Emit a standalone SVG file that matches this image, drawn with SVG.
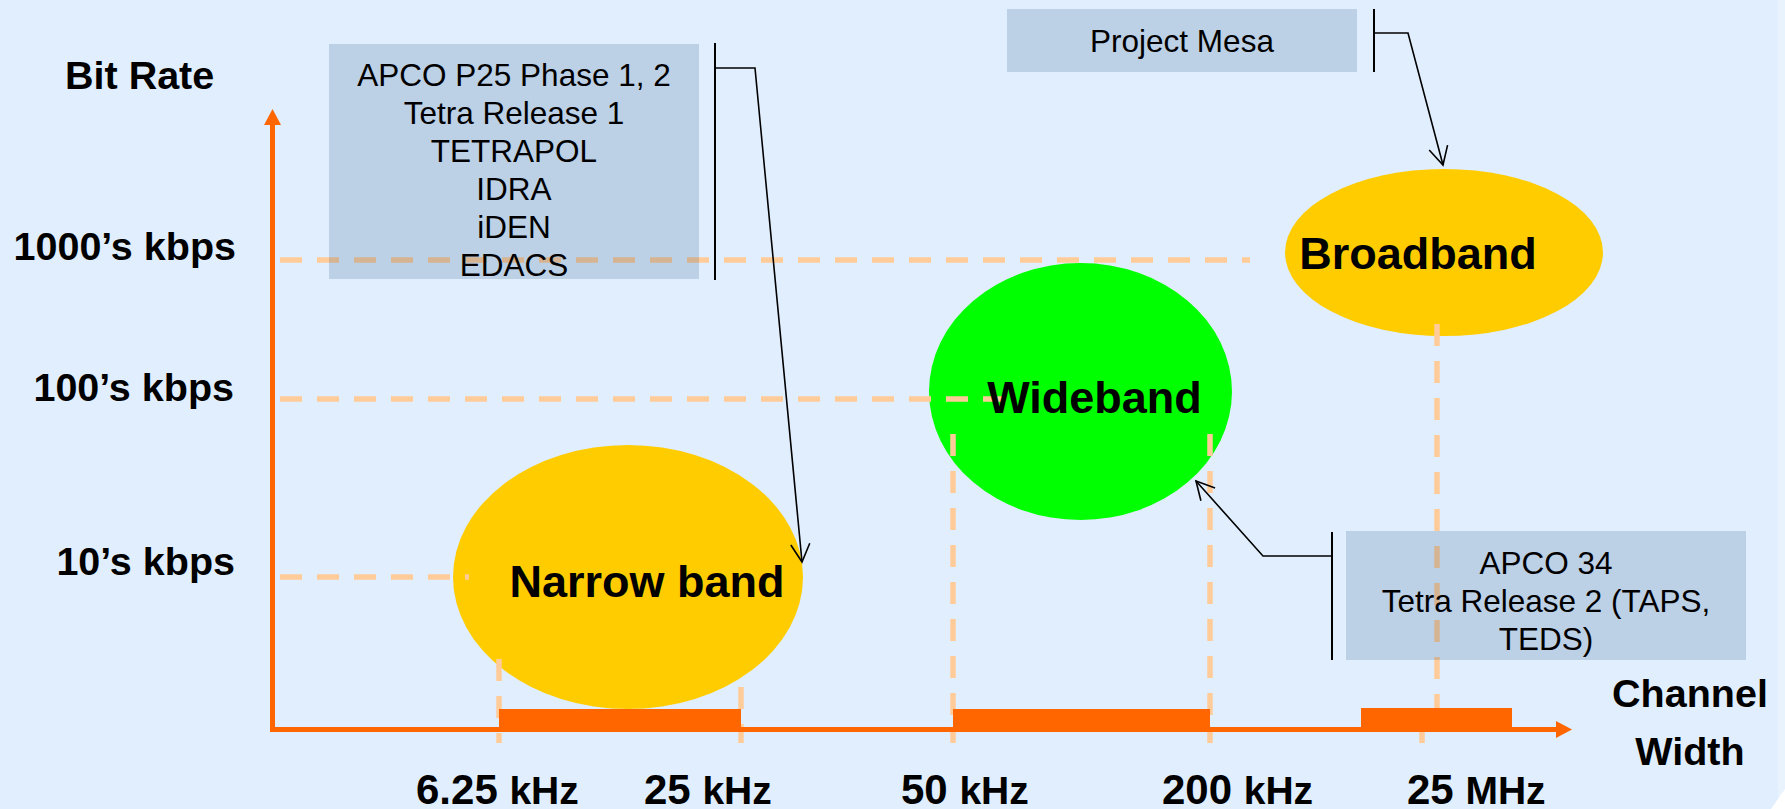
<svg xmlns="http://www.w3.org/2000/svg" width="1785" height="809" viewBox="0 0 1785 809">
  <style>
    .bg { fill: #E0EEFD; }
    .axis { fill: none; stroke: #FF6600; stroke-width: 5; }
    .axis-head { fill: #FF6600; }
    .band-bar { fill: #FF6600; }
    .grid { fill: none; stroke: #FFCC99; stroke-width: 5.5; stroke-dasharray: 22 15; }
    .note-box { fill: #003A71; fill-opacity: 0.16; }
    .note-text { font-family: "Liberation Sans", Arial, sans-serif; font-size: 31.5px; fill: #000; text-anchor: middle; }
    .axis-label { font-family: "Liberation Sans", Arial, sans-serif; font-weight: bold; font-size: 39.5px; fill: #000; }
    .band-label { font-family: "Liberation Sans", Arial, sans-serif; font-weight: bold; font-size: 45px; fill: #000; text-anchor: middle; }
    .freq { font-family: "Liberation Sans", Arial, sans-serif; font-weight: bold; font-size: 42px; fill: #000; }
    .unit { font-size: 39px; }
    .link { fill: none; stroke: #000; stroke-width: 1.6; }
    .bracket { fill: none; stroke: #000; stroke-width: 2; }
  </style>
  <defs>
    <marker id="open-arrow" markerUnits="userSpaceOnUse" markerWidth="20" markerHeight="20" refX="18" refY="9.5" orient="auto" overflow="visible">
      <path d="M0,0 L18,9.5 L0,19" fill="none" stroke="#000" stroke-width="1.6"/>
    </marker>
  </defs>

  <!-- background with the lighter slide edge on the right -->
  <rect class="bg" x="0" y="0" width="1785" height="809"/>
  <rect x="1778" y="0" width="7" height="809" fill="#FFFFFF" fill-opacity="0.3"/>
  <polygon points="1771,809 1785,789 1785,809" fill="#FFFFFF"/>

  <!-- band ellipses -->
  <g id="narrowband">
    <ellipse cx="628" cy="577" rx="175" ry="132" fill="#FFCC00"/>
  </g>
  <g id="wideband">
    <ellipse cx="1080.5" cy="391.5" rx="151.5" ry="128.5" fill="#00FF00"/>
  </g>
  <g id="broadband">
    <ellipse cx="1444" cy="252.5" rx="159" ry="83.5" fill="#FFCC00"/>
  </g>

  <!-- guide lines -->
  <g id="guides">
    <line class="grid" x1="273" y1="260" x2="1250" y2="260" stroke-dashoffset="-7"/>
    <line class="grid" x1="273" y1="399" x2="1010" y2="399" stroke-dashoffset="-7"/>
    <line class="grid" x1="273" y1="577" x2="469" y2="577" stroke-dashoffset="-7"/>
    <line class="grid" x1="499" y1="659" x2="499" y2="743"/>
    <line class="grid" x1="741" y1="687" x2="741" y2="743" stroke-dasharray="8 16 40"/>
    <line class="grid" x1="953" y1="434" x2="953" y2="743"/>
    <line class="grid" x1="1210" y1="434" x2="1210" y2="743"/>
    <line class="grid" x1="1437" y1="324" x2="1437" y2="708"/>
    <line class="grid" x1="1422" y1="730" x2="1422" y2="743"/>
  </g>

  <!-- axes -->
  <g id="axes">
    <path class="axis" d="M272.5,124 L272.5,729.5 L1558,729.5"/>
    <polygon class="axis-head" points="272.5,109 264,125 281,125"/>
    <polygon class="axis-head" points="1572,729.5 1556,721 1556,738"/>
  </g>

  <!-- channel width bars -->
  <g id="bars">
    <rect class="band-bar" x="499" y="709" width="242" height="23"/>
    <rect class="band-bar" x="953" y="709" width="257" height="23"/>
    <rect class="band-bar" x="1361" y="708" width="151" height="23"/>
  </g>

  <!-- annotation boxes -->
  <g id="note-narrow">
    <rect class="note-box" x="329" y="44" width="370" height="235"/>
    <text class="note-text" x="514" y="86">APCO P25 Phase 1, 2</text>
    <text class="note-text" x="514" y="124">Tetra Release 1</text>
    <text class="note-text" x="514" y="162">TETRAPOL</text>
    <text class="note-text" x="514" y="200">IDRA</text>
    <text class="note-text" x="514" y="238">iDEN</text>
    <text class="note-text" x="514" y="276">EDACS</text>
  </g>
  <g id="note-broad">
    <rect class="note-box" x="1007" y="9" width="350" height="63"/>
    <text class="note-text" x="1182" y="52">Project Mesa</text>
  </g>
  <g id="note-wide">
    <rect class="note-box" x="1346" y="531" width="400" height="129"/>
    <text class="note-text" x="1546" y="574">APCO 34</text>
    <text class="note-text" x="1546" y="612">Tetra Release 2 (TAPS,</text>
    <text class="note-text" x="1546" y="650">TEDS)</text>
  </g>

  <!-- connectors -->
  <g id="connectors">
    <line class="bracket" x1="715" y1="43" x2="715" y2="280"/>
    <polyline class="link" points="715,68 755,68 802,562" marker-end="url(#open-arrow)"/>
    <line class="bracket" x1="1374" y1="9" x2="1374" y2="72"/>
    <polyline class="link" points="1374,33 1408,33 1443,165" marker-end="url(#open-arrow)"/>
    <line class="bracket" x1="1332" y1="532" x2="1332" y2="660"/>
    <polyline class="link" points="1332,556 1263,556 1196,481" marker-end="url(#open-arrow)"/>
  </g>

  <!-- band names -->
  <g id="band-names">
    <text class="band-label" x="647" y="597">Narrow band</text>
    <text class="band-label" x="1094.5" y="413">Wideband</text>
    <text class="band-label" x="1418" y="269">Broadband</text>
  </g>

  <!-- axis labels -->
  <g id="axis-labels">
    <text class="axis-label" x="65" y="89">Bit Rate</text>
    <text class="axis-label" x="236" y="260" text-anchor="end">1000’s kbps</text>
    <text class="axis-label" x="234" y="401" text-anchor="end">100’s kbps</text>
    <text class="axis-label" x="235" y="575" text-anchor="end">10’s kbps</text>
    <text class="axis-label" x="1690" y="707" text-anchor="middle">Channel</text>
    <text class="axis-label" x="1690" y="765" text-anchor="middle">Width</text>
  </g>

  <!-- frequency labels -->
  <g id="freq-labels">
    <text class="freq" x="416" y="804">6.25 <tspan class="unit">kHz</tspan></text>
    <text class="freq" x="644" y="804">25 <tspan class="unit">kHz</tspan></text>
    <text class="freq" x="901" y="804">50 <tspan class="unit">kHz</tspan></text>
    <text class="freq" x="1162" y="804">200 <tspan class="unit">kHz</tspan></text>
    <text class="freq" x="1407" y="804">25 <tspan class="unit">MHz</tspan></text>
  </g>
</svg>
